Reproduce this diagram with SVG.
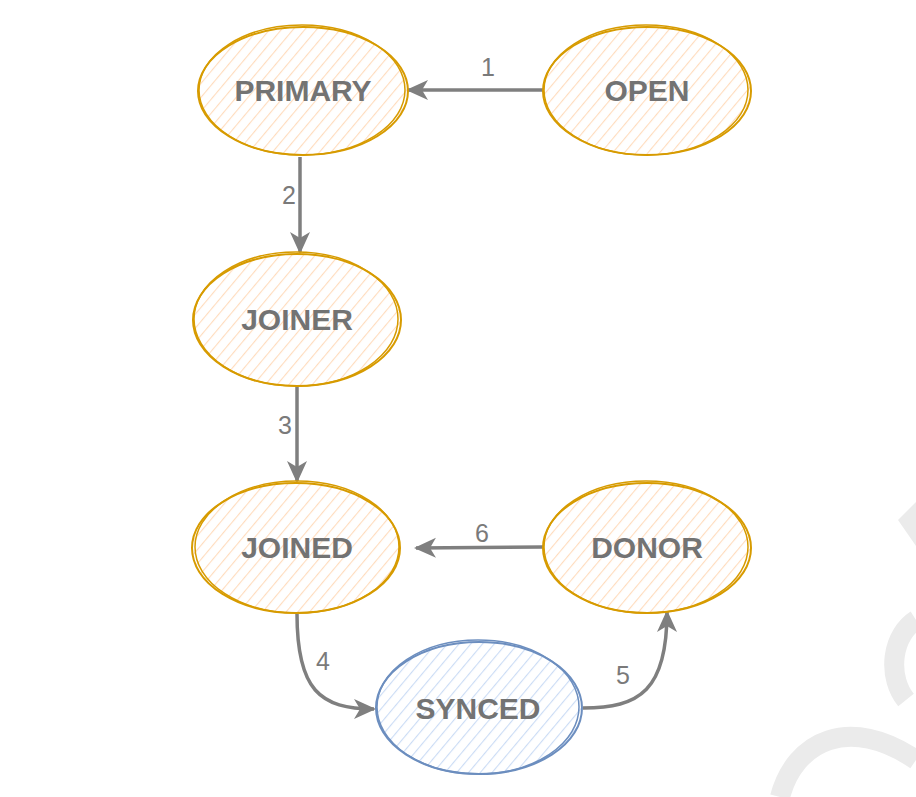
<svg xmlns="http://www.w3.org/2000/svg" width="916" height="797" viewBox="0 0 916 797">
<style>
.lbl{font-family:"Liberation Sans",Arial,sans-serif;font-weight:bold;font-size:30px;fill:#737373;text-anchor:middle}
.num{font-family:"Liberation Sans",Arial,sans-serif;font-size:25px;fill:#7a7a7a;text-anchor:middle}
.o{fill:url(#hatchO);stroke:#d79b00;stroke-width:2}
.o2{fill:none;stroke:#d79b00;stroke-width:1.5}
.b{fill:url(#hatchB);stroke:#6c8ebf;stroke-width:2}
.b2{fill:none;stroke:#6c8ebf;stroke-width:1.5}
.e{fill:none;stroke:#7f7f7f;stroke-width:3.5;marker-end:url(#arrL)}
.wm{fill:none;stroke:#ebebeb;stroke-width:20}
</style>
<defs>
<pattern id="hatchO" patternUnits="userSpaceOnUse" width="9" height="9" patternTransform="rotate(40)">
<rect width="9" height="9" fill="#ffffff"/>
<line x1="0" y1="0" x2="0" y2="9" stroke="#ffdcbd" stroke-width="2.2"/>
</pattern>
<pattern id="hatchB" patternUnits="userSpaceOnUse" width="9" height="9" patternTransform="rotate(40)">
<rect width="9" height="9" fill="#ffffff"/>
<line x1="0" y1="0" x2="0" y2="9" stroke="#cbdcf5" stroke-width="2.2"/>
</pattern>
<marker id="arrL" markerWidth="24" markerHeight="24" refX="20" refY="12" orient="auto" markerUnits="userSpaceOnUse">
<path d="M0,2 L22,12 L0,22 L6,12 Z" fill="#7f7f7f"/>
</marker>
</defs>
<g id="watermark">
<path d="M898,520 L916,502 L916,546 Z" fill="#ebebeb"/>
<path d="M916,620 A40,50 0 0 0 906,700" class="wm"/>
<path d="M780,797 C795,740 850,715 916,760" class="wm"/>
</g>
<g id="connectors">
<path d="M543,90 L408,90" class="e"/>
<path d="M300,157 L300,252" class="e"/>
<path d="M297,387 L297,481" class="e"/>
<path d="M543,547 L416,548" class="e"/>
<path d="M297,614 C297,690 320,709 374,709" class="e"/>
<path d="M583,708 C640,708 667,690 667,612" class="e"/>
<text x="488" y="76" class="num">1</text>
<text x="289" y="204" class="num">2</text>
<text x="285" y="434" class="num">3</text>
<text x="323" y="670" class="num">4</text>
<text x="623" y="684" class="num">5</text>
<text x="482" y="542" class="num">6</text>
</g>
<g id="primary">
<ellipse cx="303" cy="91" rx="105" ry="64" class="o"/>
<ellipse cx="302" cy="90" rx="103" ry="65" class="o2"/>
<text x="303" y="101" class="lbl">PRIMARY</text>
</g>
<g id="open">
<ellipse cx="647" cy="91" rx="104" ry="64" class="o"/>
<ellipse cx="646" cy="90" rx="102" ry="65" class="o2"/>
<text x="647" y="101" class="lbl">OPEN</text>
</g>
<g id="joiner">
<ellipse cx="297" cy="320" rx="104" ry="66" class="o"/>
<ellipse cx="296" cy="319" rx="102" ry="67" class="o2"/>
<text x="297" y="330" class="lbl">JOINER</text>
</g>
<g id="joined">
<ellipse cx="296" cy="548" rx="104" ry="65" class="o"/>
<ellipse cx="297" cy="547" rx="102" ry="66" class="o2"/>
<text x="297" y="558" class="lbl">JOINED</text>
</g>
<g id="donor">
<ellipse cx="647" cy="548" rx="104" ry="65" class="o"/>
<ellipse cx="646" cy="547" rx="102" ry="66" class="o2"/>
<text x="647" y="558" class="lbl">DONOR</text>
</g>
<g id="synced">
<ellipse cx="479" cy="708" rx="103" ry="66" class="b"/>
<ellipse cx="478" cy="707" rx="101" ry="67" class="b2"/>
<text x="478" y="719" class="lbl">SYNCED</text>
</g>
</svg>
